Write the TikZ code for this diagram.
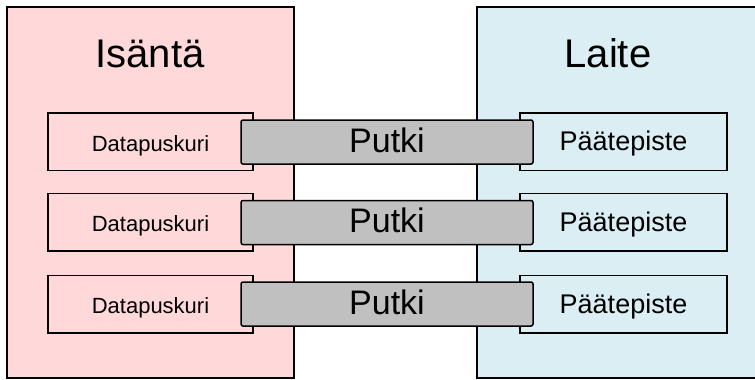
\documentclass[tikz,border=0pt]{standalone}
\usepackage{fontspec}
\setmainfont{Liberation Sans}
\definecolor{hostfill}{RGB}{255,217,217}
\definecolor{devfill}{RGB}{218,238,243}
\definecolor{pipefill}{RGB}{192,192,192}
\begin{document}
\begin{tikzpicture}[x=1pt,y=-1pt,
  frame/.style={draw=black, line width=1.5pt, inner sep=0pt, outer sep=0pt},
  bigbox/.style={frame, minimum height=371pt},
  bufbox/.style={frame, fill=hostfill, minimum width=205pt, minimum height=57.5pt, font=\fontsize{22}{26}\selectfont, text height=19.75pt, text depth=0pt},
  epbox/.style={frame, fill=devfill, minimum width=207pt, minimum height=57.5pt, font=\fontsize{27}{31}\selectfont, text height=19.3pt, text depth=1pt},
  pipebox/.style={frame, fill=pipefill, rounded corners=2pt, minimum width=292pt, minimum height=44pt, font=\fontsize{34}{40}\selectfont, text height=24.3pt, text depth=4pt},
  title/.style={anchor=base, inner sep=0pt, font=\fontsize{40}{48}\selectfont}]
\useasboundingbox (0,0) rectangle (755,380);
\clip (0,0) rectangle (755,380);
\fill[white] (0,0) rectangle (755,380);
\node[bigbox, fill=hostfill, minimum width=287pt] (host) at (150.5,192.5) {};
\node[bigbox, fill=devfill, minimum width=293pt] (device) at (623.5,192.5) {};
\node[title] (hosttitle) at (150,67) {Isäntä};
\node[title] (devtitle) at (608,67) {Laite};
\node[bufbox] (buf1) at (150.5,141.5) {Datapuskuri};
\node[bufbox] (buf2) at (150.5,222) {Datapuskuri};
\node[bufbox] (buf3) at (150.5,304) {Datapuskuri};
\node[epbox] (ep1) at (623.5,141.5) {Päätepiste};
\node[epbox] (ep2) at (623.5,222) {Päätepiste};
\node[epbox] (ep3) at (623.5,304) {Päätepiste};
\node[pipebox] (pipe1) at (387,142) {Putki};
\node[pipebox] (pipe2) at (387,222.5) {Putki};
\node[pipebox] (pipe3) at (387,304) {Putki};
\end{tikzpicture}
\end{document}
